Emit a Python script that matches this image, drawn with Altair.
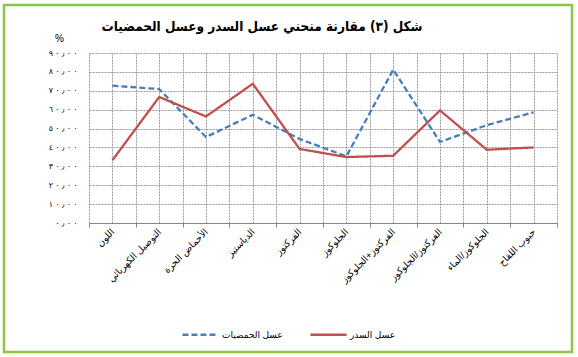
import json
import altair as alt
import pandas as pd

categories = ["اللون", "التوصيل الكهربائي", "الأحماض الحرة", "الدياستيز", "الفركتوز",
              "الجلوكوز", "الفركتوز+الجلوكوز", "الفركتوز/الجلوكوز", "الجلوكوز/الماء", "حبوب اللقاح"]
citrus = [72.7, 70.9, 45.5, 57.3, 44.5, 35.3, 81.2, 42.9, 51.8, 58.6]
sidr = [33.2, 66.7, 56.4, 73.7, 39.2, 34.9, 35.6, 59.6, 38.8, 40.0]
series_names = ["عسل الحمضيات", "عسل السدر"]
y_ticks = [0, 10, 20, 30, 40, 50, 60, 70, 80, 90]
y_tick_labels = ["٠٫٠٠", "١٠٫٠٠", "٢٠٫٠٠", "٣٠٫٠٠", "٤٠٫٠٠", "٥٠٫٠٠", "٦٠٫٠٠", "٧٠٫٠٠", "٨٠٫٠٠", "٩٠٫٠٠"]
title_text = "شكل (٣) مقارنة منحني عسل السدر وعسل الحمضيات"

rows = []
for i, c in enumerate(categories):
    rows.append({"i": i, "cat": c, "series": series_names[0], "v": citrus[i]})
    rows.append({"i": i, "cat": c, "series": series_names[1], "v": sidr[i]})
df = pd.DataFrame(rows)

FONT = "Liberation Sans, DejaVu Sans"
TFONT = "DejaVu Sans Condensed, DejaVu Sans"
x_vals = [k / 2 for k in range(-1, 2 * len(categories) + 1)]
cat_js = json.dumps(categories, ensure_ascii=False)
# spaced, left-to-right-forced versions of the tick labels (display only)
spaced = ["\u202d" + " ".join(list(s)) + "\u202c" for s in y_tick_labels]
ylab_js = json.dumps(spaced, ensure_ascii=False)

grid_color = "#9a9a9a"

lines = alt.Chart(df).mark_line(strokeWidth=2.3).encode(
    x=alt.X("i:Q", scale=alt.Scale(domain=[-0.5, len(categories) - 0.5], nice=False, zero=False),
            axis=alt.Axis(values=x_vals, title=None,
                          labelExpr=f"datum.value % 1 === 0 ? {cat_js}[datum.value] : ''",
                          labelAngle=-45, labelAlign="right", labelBaseline="middle",
                          labelFontSize=9.5, labelFont=FONT, labelColor="#000", labelPadding=3,
                          labelOverlap=False, labelBound=False, labelFlush=False,
                          grid=True, gridColor=grid_color, gridDash=[2, 1], gridWidth=1,
                          domainColor="#888", domainWidth=1,
                          tickColor={"condition": {"test": "datum.value % 1 === 0", "value": "transparent"},
                                     "value": "#888"},
                          tickSize=4)),
    y=alt.Y("v:Q", scale=alt.Scale(domain=[0, 90], nice=False),
            axis=alt.Axis(values=y_ticks, title="%", titleAngle=0, titleX=-30, titleY=-10,
                          titleFont=FONT, titleFontSize=10, titleFontWeight="normal", titleColor="#000",
                          labelExpr=f"{ylab_js}[datum.value / 10]",
                          labelFontSize=8, labelFont=FONT, labelColor="#000", labelPadding=12,
                          grid=True, gridColor=grid_color, gridDash=[2, 1], gridWidth=1,
                          domain=False, ticks=False)),
    color=alt.Color("series:N", scale=alt.Scale(domain=series_names, range=["#4A7EBB", "#C0504D"]),
                    legend=alt.Legend(title=None, orient="none", direction="horizontal",
                                      legendX=92, legendY=262, symbolType="stroke",
                                      symbolSize=1300, symbolStrokeWidth=2.5,
                                      labelFont=FONT, labelFontSize=9, labelColor="#000",
                                      columnPadding=22, labelOffset=2)),
    strokeDash=alt.StrokeDash("series:N", scale=alt.Scale(domain=series_names, range=[[6, 3], [1, 0]]),
                              legend=None),
)

frame = alt.Chart(pd.DataFrame({"a": [0]})).mark_rect(
    fill=None, stroke="#8DC63F", strokeWidth=2.5, clip=False
).encode(x=alt.value(-85), x2=alt.value(483), y=alt.value(-48), y2=alt.value(299))

title = alt.Chart(pd.DataFrame({"t": [title_text]})).mark_text(
    font=TFONT, fontSize=13.5, fontWeight="bold", color="#000", align="center", baseline="middle", clip=False
).encode(text="t:N", x=alt.value(173), y=alt.value(-26))

chart = alt.layer(lines, frame, title).properties(
    width=468, height=170,
    autosize=alt.AutoSizeParams(type="none"),
    padding={"left": 89, "top": 53, "right": 21, "bottom": 134},
    background="white",
).configure_view(stroke=None)

chart.save("out.html", embed_options={"renderer": "svg", "actions": False})
